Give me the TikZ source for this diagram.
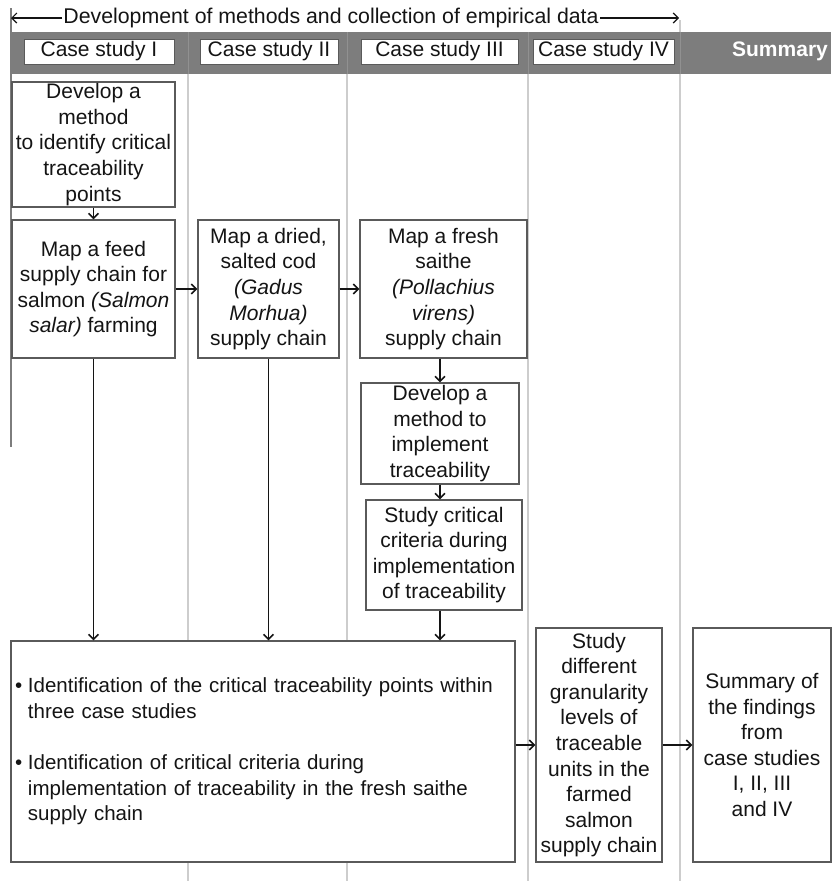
\documentclass[tikz,border=0pt]{standalone}
\usepackage{fontspec}
\setmainfont{Liberation Sans}
\usetikzlibrary{arrows.meta,calc}
\definecolor{hdr}{RGB}{125,125,125}
\definecolor{sepc}{RGB}{205,205,205}
\definecolor{sepd}{RGB}{145,145,145}
\definecolor{bord}{RGB}{90,90,90}
\definecolor{leftc}{RGB}{125,125,125}
\definecolor{txt}{RGB}{20,20,20}
\newcommand{\bulx}{\makebox[13pt][l]{\textbullet}}
\newcommand{\indx}{\hspace*{13pt}}
\begin{document}
\begin{tikzpicture}[x=1pt,y=-1pt,
  box/.style={draw=bord, line width=1.2pt, fill=white, inner sep=0pt, align=center, text=txt,
    font=\fontsize{21}{25.6}\selectfont},
  hbox/.style={draw=bord, line width=1pt, fill=white, inner sep=0pt, text=txt,
    font=\fontsize{21}{25}\selectfont},
  arr/.style={line width=1.6pt, draw=txt, -{Straight Barb[length=5pt,width=10pt]}},
  sepline/.style={draw=sepc, line width=1.1pt}
]
\useasboundingbox (0,0) rectangle (831,881);

% header band
\fill[hdr] (11,32) rectangle (831,74);
% column separators
\foreach \x in {188,347,528,680}{
  \draw[sepline] (\x,74) -- (\x,881);
  \draw[draw=sepd, line width=1pt] (\x,32) -- (\x,74);
}
\draw[sepline] (680,20) -- (680,32);
% left rule
\draw[draw=leftc, line width=1.6pt] (11,8) -- (11,447);

% title with arrows
\node[inner sep=1pt, text=txt, font=\fontsize{21.3}{25}\selectfont] (T) at (331,18) {Development of methods and collection of empirical data};
\coordinate (L) at (11,18);
\coordinate (R) at (679,18);
\draw[arr, line width=1.2pt] (T.west) -- (L);
\draw[arr, line width=1.2pt] (T.east) -- (R);

% header boxes
\node[hbox, minimum width=150, minimum height=25] (h1) at (99,51.5) {Case study I};
\node[hbox, minimum width=138, minimum height=25] (h2) at (269,51.5) {Case study II};
\node[hbox, minimum width=157, minimum height=25] (h3) at (439.5,51.5) {Case study III};
\node[hbox, minimum width=141, minimum height=25] (h4) at (603.5,51.5) {Case study IV};
\node[text=white, font=\fontsize{21}{25}\selectfont\bfseries, inner sep=0pt] (h5) at (780,51.5) {Summary};

% boxes
\node[box, minimum width=163, minimum height=125] (A) at (93.5,144.5)
  {Develop a\\method\\to identify critical\\traceability\\points};
\node[box, minimum width=163, minimum height=138] (B) at (93.5,289)
  {Map a feed\\supply chain for\\salmon \textit{(Salmon}\\\textit{salar)} farming};
\node[box, minimum width=141, minimum height=138] (C) at (268.5,289)
  {Map a dried,\\salted cod\\\textit{(Gadus}\\\textit{Morhua)}\\supply chain};
\node[box, minimum width=167, minimum height=138] (D) at (443.5,289)
  {Map a fresh\\saithe\\\textit{(Pollachius}\\\textit{virens)}\\supply chain};
\node[box, minimum width=158, minimum height=101] (E) at (440,433.5)
  {Develop a\\method to\\implement\\traceability};
\node[box, minimum width=156, minimum height=110] (F) at (444,555)
  {Study critical\\criteria during\\implementation\\of traceability};
\node[box, minimum width=504, minimum height=221, inner xsep=4pt, text width=496pt, align=left,
  font=\fontsize{20.5}{25.6}\selectfont] (G) at (263,751.5)
  {\bulx Identification of the critical traceability points within\\
   \indx three case studies\\[25.6pt]
   \bulx Identification of critical criteria during\\
   \indx implementation of traceability in the fresh saithe\\
   \indx supply chain};
\node[box, minimum width=126, minimum height=234] (H) at (599,745)
  {Study\\different\\granularity\\levels of\\traceable\\units in the\\farmed\\salmon\\supply chain};
\node[box, minimum width=138, minimum height=234] (I) at (762,745)
  {Summary of\\the findings\\from\\case studies\\I, II, III\\and IV};

% connectors
\draw[arr] (A.south) -- (B.north);
\draw[arr] (B.east) -- (C.west);
\draw[arr] (C.east) -- (D.west);
\draw[arr] (D.south -| E.north) -- (E.north);
\draw[arr] (E.south) -- (E.south |- F.north);
\draw[arr] (F.south -| E.south) -- (E.south |- G.north);
\draw[arr] (B.south) -- (B.south |- G.north);
\draw[arr] (C.south) -- (C.south |- G.north);
\draw[arr] (G.east |- H.west) -- (H.west);
\draw[arr] (H.east) -- (I.west);
\end{tikzpicture}
\end{document}
